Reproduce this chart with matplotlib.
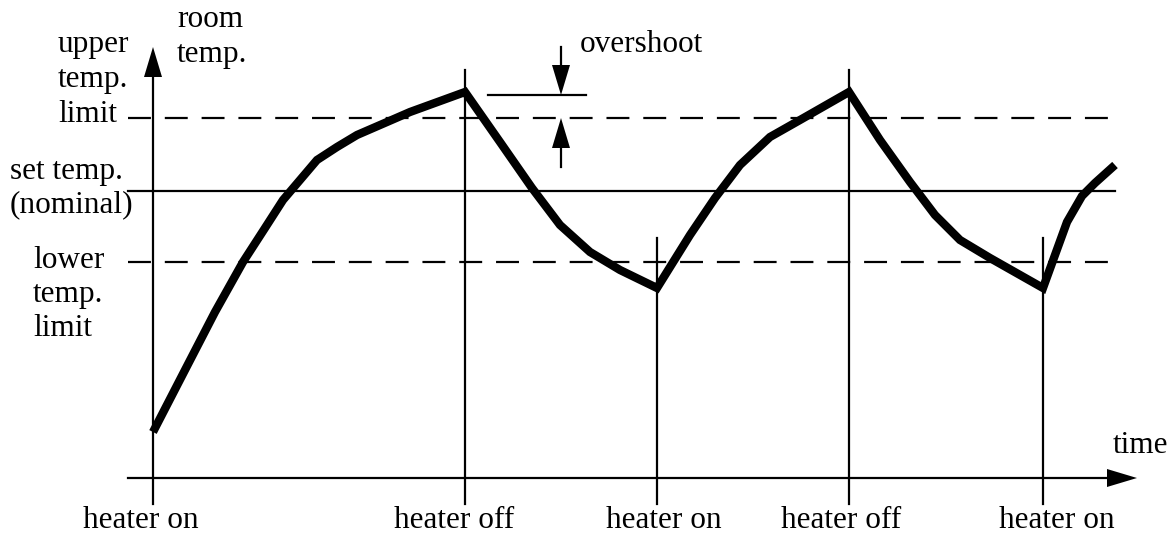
import numpy as np
import matplotlib.pyplot as plt

plt.rcParams['font.family'] = ['Liberation Serif', 'DejaVu Serif']
plt.rcParams['lines.scale_dashes'] = False

# room temperature over time (thermostat cycle)
t = [153, 185, 215, 243, 265, 283, 300, 317, 337, 357, 387, 410, 465,
     500, 532, 560, 590, 620, 657,
     690, 715, 740, 770, 800, 849,
     880, 910, 935, 960, 990, 1043,
     1055, 1067, 1082, 1095, 1115]
temp = [102, 164, 222, 272, 306, 334, 354, 374, 387, 399, 412, 422, 442,
        392, 346, 309, 282, 264, 246,
        299, 336, 369, 397, 414, 442,
        394, 352, 319, 294, 276, 246,
        279, 312, 338, 351, 369]

upper_limit = 416
set_temp = 343
lower_limit = 272

# heater switching instants
events = [153, 465, 657, 849, 1043]
event_labels = ['heater on', 'heater off', 'heater on', 'heater off', 'heater on']
event_tops = [487, 464, 296, 464, 296]
label_x = [141, 454, 664, 841, 1057]

t0, t1 = 128, 1115
axis_y = 56
tick_bottom = 30
y_top = 487
overshoot_peak = 439

fig = plt.figure(figsize=(11.75, 5.34), dpi=100)
ax = fig.add_axes([0, 0, 1, 1])
ax.set_xlim(0, 1175)
ax.set_ylim(0, 534)
ax.axis('off')

lw = 1.6
ink = 'black'
fs = 22.5


def arrow_head(x, y, dx, dy, length=30, half=9):
    # filled triangle with its tip at (x, y), pointing along (dx, dy)
    bx, by = x - dx * length, y - dy * length
    px, py = -dy * half, dx * half
    ax.fill([x, bx + px, bx - px], [y, by + py, by - py], color=ink, lw=0)


# limit lines and set point
dash = dict(color=ink, lw=lw, dashes=(16.5, 10), dash_capstyle='butt')
ax.plot([t0, t1], [upper_limit, upper_limit], **dash)
ax.plot([t0, t1], [lower_limit, lower_limit], **dash)
ax.plot([t0, t1], [set_temp, set_temp], color=ink, lw=lw)

# time axis
ax.plot([t0, 1108], [axis_y, axis_y], color=ink, lw=lw)
arrow_head(1137, axis_y, 1, 0)

# heater event lines, the first one doubles as temperature axis
for x, top in zip(events, event_tops):
    end = top - 30 if x == events[0] else top
    ax.plot([x, x], [tick_bottom, end], color=ink, lw=lw)
arrow_head(events[0], y_top, 0, 1)

for x, lab in zip(label_x, event_labels):
    ax.text(x, 6, lab, ha='center', va='baseline', fontsize=fs)

# temperature curve
ax.plot(t, temp, color=ink, lw=6, solid_joinstyle='miter', solid_capstyle='butt')

# overshoot marker
ax.plot([488, 586], [overshoot_peak, overshoot_peak], color=ink, lw=lw)
ax.plot([561, 561], [y_top, overshoot_peak + 28], color=ink, lw=lw)
arrow_head(561, overshoot_peak, 0, -1)
ax.plot([561, 561], [367, upper_limit - 28], color=ink, lw=lw)
arrow_head(561, upper_limit, 0, 1)
ax.text(580, 482, 'overshoot', ha='left', va='baseline', fontsize=fs)

# left side labels
ax.text(177, 507, 'room', ha='left', va='baseline', fontsize=fs)
ax.text(177, 472, 'temp.', ha='left', va='baseline', fontsize=fs)
for i, s in enumerate(['upper', 'temp.', 'limit']):
    ax.text(58, 482 - 35 * i, s, ha='left', va='baseline', fontsize=fs)
for i, s in enumerate(['set temp.', '(nominal)']):
    ax.text(10, 355 - 33 * i, s, ha='left', va='baseline', fontsize=fs)
for i, s in enumerate(['lower', 'temp.', 'limit']):
    ax.text(33, 266 - 34 * i, s, ha='left', va='baseline', fontsize=fs)

ax.text(1113, 81, 'time', ha='left', va='baseline', fontsize=fs)

fig.savefig('out.png', dpi=100)
